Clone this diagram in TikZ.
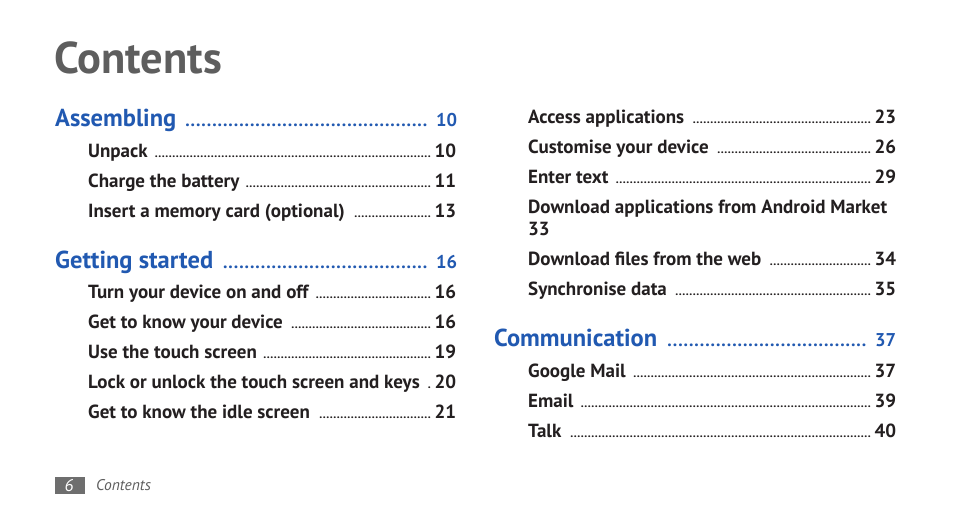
\documentclass[tikz,border=0pt]{standalone}
\usepackage{fontspec}
\setmainfont{PT Sans}
\definecolor{tocblue}{HTML}{2159B1}
\definecolor{tocblack}{HTML}{231F20}
\definecolor{titlegray}{HTML}{5E5E5E}
\definecolor{footgray}{HTML}{6E6E6E}
\newcommand{\bodyfont}{\fontsize{19}{22}\selectfont\bfseries}
\newcommand{\headfont}{\fontsize{24.5}{28}\selectfont\bfseries}
\newcommand{\smalldots}{\leaders\hbox to 3.5pt{\hss\fontsize{12}{12}\selectfont\bfseries.\hss}\hfill}
\newcommand{\bigdots}{\leaders\hbox to 5.4pt{\hss\fontsize{18}{18}\selectfont\bfseries.\hss}\hfill}
\newcommand{\tocline}[2]{\hbox to 368pt{#1\hskip6pt\smalldots\hskip3pt #2}}
\newcommand{\tochead}[2]{\hbox to 402pt{#1\hskip8pt\bigdots\hskip6pt{\fontsize{18.5}{18}\selectfont\bfseries #2}}}
\begin{document}
\begin{tikzpicture}[x=1pt,y=-1pt,
  entry/.style={anchor=base west,inner sep=0pt,font=\bodyfont,text=tocblack},
  head/.style={anchor=base west,inner sep=0pt,font=\headfont,text=tocblue}]
\useasboundingbox[fill=white] (0,0) rectangle (954,518);
\node[anchor=base west,inner sep=0pt,font=\fontsize{44.5}{50}\selectfont\bfseries,text=titlegray] (title) at (54,73.5) {Contents};
% left column
\node[head] (h1) at (55,127) {\tochead{Assembling}{10}};
\node[entry] (e1) at (88,157.5) {\tocline{Unpack}{10}};
\node[entry] (e2) at (88,187.5) {\tocline{Charge the battery}{11}};
\node[entry] (e3) at (88,217.5) {\tocline{Insert a memory card (optional)}{13}};
\node[head] (h2) at (55,269) {\tochead{Getting started}{16}};
\node[entry] (e4) at (88,298.5) {\tocline{Turn your device on and off}{16}};
\node[entry] (e5) at (88,328.5) {\tocline{Get to know your device}{16}};
\node[entry] (e6) at (88,358.5) {\tocline{Use the touch screen}{19}};
\node[entry] (e7) at (88,388.5) {\tocline{Lock or unlock the touch screen and keys}{20}};
\node[entry] (e8) at (88,418.5) {\tocline{Get to know the idle screen}{21}};
% right column
\node[entry] (r1) at (528,123.5) {\tocline{Access applications}{23}};
\node[entry] (r2) at (528,153.5) {\tocline{Customise your device}{26}};
\node[entry] (r3) at (528,183.5) {\tocline{Enter text}{29}};
\node[entry] (r4) at (528,213.5) {Download applications from Android Market};
\node[entry] (r4b) at (528,235.5) {33};
\node[entry] (r5) at (528,265.5) {\tocline{Download files from the web}{34}};
\node[entry] (r6) at (528,295.5) {\tocline{Synchronise data}{35}};
\node[head] (h3) at (494,347) {\tochead{Communication}{37}};
\node[entry] (r7) at (528,377.5) {\tocline{Google Mail}{37}};
\node[entry] (r8) at (528,407.5) {\tocline{Email}{39}};
\node[entry] (r9) at (528,437.5) {\tocline{Talk}{40}};
% footer
\fill[footgray] (55,477) rectangle (85,494);
\node[anchor=base,inner sep=0pt,font=\fontsize{17}{17}\selectfont\itshape,text=white] (pg) at (69,492) {6};
\node[anchor=base west,inner sep=0pt,font=\fontsize{15.5}{15}\selectfont\itshape,text=titlegray] (ft) at (96,491) {Contents};
\end{tikzpicture}
\end{document}
